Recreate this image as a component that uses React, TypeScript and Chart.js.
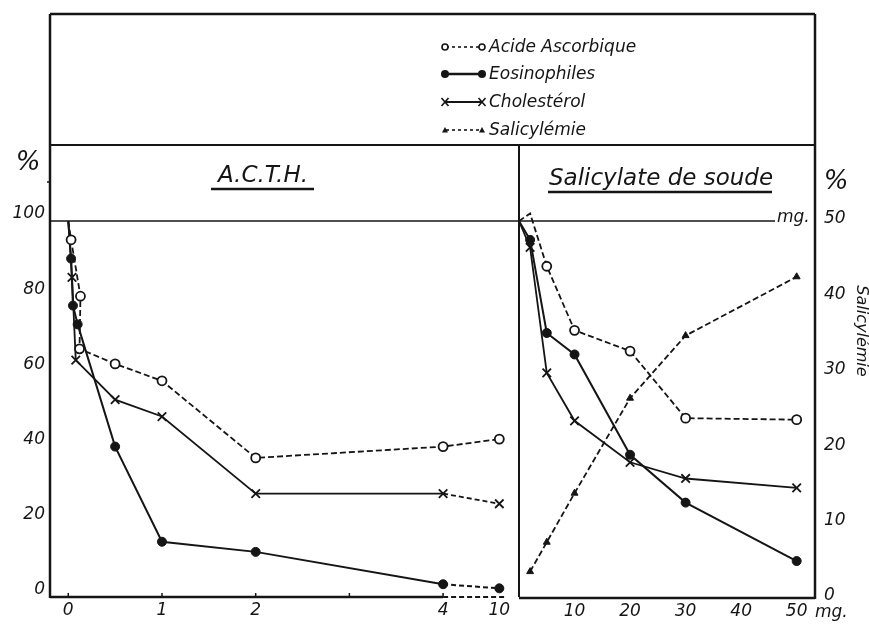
import { useEffect, useRef } from "react";
import { Chart, registerables } from "chart.js";

Chart.register(...registerables);

// ---------- data ----------
// A.C.T.H. panel (dose axis is broken after 4: the "10" is drawn close to 4)
const ACTH_TICK_DOSES = [0, 1, 2, 3, 4, 10];
const ACTH_TICK_LABELS = ["0", "1", "2", "", "4", "10"];

const ACTH_ASC_DOSE = [0, 0.03, 0.13, 0.12, 0.5, 1, 2, 4, 10];
const ACTH_ASC = [100, 95, 80, 66, 62, 57.5, 37, 40, 42];

const ACTH_EOS_DOSE = [0, 0.03, 0.05, 0.1, 0.5, 1, 2, 4, 10];
const ACTH_EOS = [100, 90, 77.5, 72.5, 40, 14.7, 12, 3.4, 2.3];

const ACTH_CHOL_DOSE = [0, 0.04, 0.08, 0.5, 1, 2, 4, 10];
const ACTH_CHOL = [100, 85, 63, 52.5, 48, 27.5, 27.5, 24.8];

// Salicylate de soude panel (mg)
const SAL_TICKS = [10, 20, 30, 40, 50];
const SAL_DOSE = [0, 2, 5, 10, 20, 30, 50];
const SAL_ASC = [100, 102, 88, 71, 65.5, 47.7, 47.3];
const SAL_EOS = [100, 95, 70.3, 64.6, 38, 25.3, 9.8];
const SAL_CHOL = [100, 93, 59.7, 47, 36, 31.7, 29.2];

const SALICYLEMIE_DOSE = [2, 5, 10, 20, 30, 50];
const SALICYLEMIE = [3.5, 7.4, 13.9, 26.5, 34.8, 42.6];

const PCT_TICKS = [0, 20, 40, 60, 80, 100];
const SALICYLEMIE_TICKS = [0, 10, 20, 30, 40, 50];

const LEGEND_LABELS = ["Acide Ascorbique", "Eosinophiles", "Cholestérol", "Salicylémie"];

// ---------- layout / style ----------
const W = 869;
const H = 624;
const INK = "#151515";
const FAMILY = '"DejaVu Sans", "Liberation Sans", sans-serif';
const PLOT_LEFT = 50;
const PLOT_DIVIDE = 519;
const PLOT_RIGHT = 815;
const PLOT_TOP = 221;
const PLOT_BOTTOM = 597;
const FRAME_TOP = 14;
const HEADER_BOTTOM = 145;

const brk = (d: number) => (d <= 4 ? d : 4 + (d - 4) * 0.1);

const tickFont = { family: FAMILY, size: 17, style: "italic" as const };

function seg(ctx: CanvasRenderingContext2D, x1: number, y1: number, x2: number, y2: number, w: number, dash: number[] = []) {
  ctx.beginPath();
  ctx.lineWidth = w;
  ctx.setLineDash(dash);
  ctx.moveTo(x1, y1);
  ctx.lineTo(x2, y2);
  ctx.stroke();
  ctx.setLineDash([]);
}

function marker(ctx: CanvasRenderingContext2D, kind: string, x: number, y: number) {
  ctx.setLineDash([]);
  if (kind === "open") {
    ctx.beginPath();
    ctx.lineWidth = 1.6;
    ctx.fillStyle = "#fff";
    ctx.arc(x, y, 3, 0, Math.PI * 2);
    ctx.fill();
    ctx.stroke();
    ctx.fillStyle = INK;
  } else if (kind === "filled") {
    ctx.beginPath();
    ctx.arc(x, y, 4, 0, Math.PI * 2);
    ctx.fill();
  } else if (kind === "cross") {
    ctx.lineWidth = 1.6;
    ctx.beginPath();
    ctx.moveTo(x - 3.5, y - 4);
    ctx.lineTo(x + 3.5, y + 4);
    ctx.moveTo(x + 3.5, y - 4);
    ctx.lineTo(x - 3.5, y + 4);
    ctx.stroke();
  } else {
    ctx.beginPath();
    ctx.moveTo(x, y - 3);
    ctx.lineTo(x + 3, y + 2.5);
    ctx.lineTo(x - 3, y + 2.5);
    ctx.closePath();
    ctx.fill();
  }
}

const leftDeco = {
  id: "leftDeco",
  afterDraw(chart: any) {
    const { ctx, chartArea: a, scales } = chart;
    const xs = scales.x;
    const ys = scales.y;
    ctx.save();
    ctx.strokeStyle = INK;
    ctx.fillStyle = INK;
    // frame
    seg(ctx, a.left, FRAME_TOP, PLOT_RIGHT, FRAME_TOP, 2.5);
    seg(ctx, a.left, FRAME_TOP, a.left, a.bottom + 1, 2.5);
    seg(ctx, a.left, HEADER_BOTTOM, PLOT_RIGHT, HEADER_BOTTOM, 2);
    seg(ctx, a.right, HEADER_BOTTOM, a.right, a.bottom, 2);
    const y100 = ys.getPixelForValue(100);
    seg(ctx, a.left, y100, a.right, y100, 1.6);
    // broken dose axis
    const x4 = xs.getPixelForValue(4);
    seg(ctx, a.left, a.bottom, x4, a.bottom, 2.5);
    seg(ctx, x4, a.bottom, xs.getPixelForValue(4.66), a.bottom, 2, [5, 3]);
    ACTH_TICK_DOSES.forEach((d) => {
      if (d > 4) return;
      const px = xs.getPixelForValue(brk(d));
      seg(ctx, px, a.bottom - 4, px, a.bottom, 1.5);
    });
    // small tick on y axis above 100
    seg(ctx, a.left - 3, 182, a.left, 182, 1.5);

    // legend
    const rows = [47, 74, 102, 130];
    const kinds = ["open", "filled", "cross", "tri"];
    const dashes = [[3, 3], [], [], [3, 3]];
    const widths = [1.6, 2.4, 1.8, 1.6];
    rows.forEach((ry, i) => {
      seg(ctx, 446, ry, 481, ry, widths[i], dashes[i]);
      marker(ctx, kinds[i], 445, ry);
      marker(ctx, kinds[i], 482, ry);
      ctx.font = `italic 17px ${FAMILY}`;
      ctx.textAlign = "left";
      ctx.textBaseline = "middle";
      ctx.fillText(LEGEND_LABELS[i], 489, ry + 1);
    });

    // title A.C.T.H.
    ctx.font = `italic 23px ${FAMILY}`;
    ctx.textAlign = "center";
    ctx.textBaseline = "alphabetic";
    ctx.fillText("A.C.T.H.", 263, 182);
    seg(ctx, 211, 189, 314, 189, 2.5);

    // % sign
    ctx.font = `italic 26px ${FAMILY}`;
    ctx.textBaseline = "middle";
    ctx.fillText("%", 28, 163);
    ctx.restore();
  },
};

const rightDeco = {
  id: "rightDeco",
  afterDraw(chart: any) {
    const { ctx, chartArea: a, scales } = chart;
    const ys = scales.y;
    ctx.save();
    ctx.strokeStyle = INK;
    ctx.fillStyle = INK;
    seg(ctx, a.right, FRAME_TOP, a.right, a.bottom + 1, 2.5);
    seg(ctx, a.left, a.bottom, a.right, a.bottom, 2.5);
    const y100 = ys.getPixelForValue(100);
    seg(ctx, a.left, y100, 775, y100, 1.6);

    ctx.font = `italic 17px ${FAMILY}`;
    ctx.textAlign = "left";
    ctx.textBaseline = "middle";
    ctx.fillText("mg.", 777, y100 - 3);
    ctx.fillText("mg.", 815, 613);

    ctx.font = `italic 23px ${FAMILY}`;
    ctx.textAlign = "center";
    ctx.textBaseline = "alphabetic";
    ctx.fillText("Salicylate de soude", 661, 185);
    seg(ctx, 548, 192, 772, 192, 2.5);

    ctx.font = `italic 26px ${FAMILY}`;
    ctx.textBaseline = "middle";
    ctx.fillText("%", 836, 182);

    ctx.save();
    ctx.translate(861, 331);
    ctx.rotate(Math.PI / 2);
    ctx.font = `italic 16px ${FAMILY}`;
    ctx.textAlign = "center";
    ctx.textBaseline = "middle";
    ctx.fillText("Salicylémie", 0, 0);
    ctx.restore();
    ctx.restore();
  },
};

const hideFirst = (c: any) => (c.dataIndex === 0 ? 0 : 4.5);
const hideFirstCross = (c: any) => (c.dataIndex === 0 ? 0 : 6);
const dashAfter4 = (c: any) => (c.p1.parsed.x > 4.01 ? [5, 3] : undefined);

const common = { borderColor: INK, clip: false as const, tension: 0, fill: false, pointBorderColor: INK };

function leftConfig(): any {
  return {
    type: "line",
    data: {
      datasets: [
        {
          ...common,
          label: LEGEND_LABELS[0],
          data: ACTH_ASC_DOSE.map((d, i) => ({ x: brk(d), y: ACTH_ASC[i] })),
          borderWidth: 1.8,
          borderDash: [6, 3],
          pointStyle: "circle",
          pointRadius: hideFirst,
          pointBackgroundColor: "#fff",
          pointBorderWidth: 1.8,
        },
        {
          ...common,
          label: LEGEND_LABELS[1],
          data: ACTH_EOS_DOSE.map((d, i) => ({ x: brk(d), y: ACTH_EOS[i] })),
          borderWidth: 2,
          pointStyle: "circle",
          pointRadius: hideFirst,
          pointBackgroundColor: INK,
          pointBorderWidth: 1,
          segment: { borderDash: dashAfter4 },
        },
        {
          ...common,
          label: LEGEND_LABELS[2],
          data: ACTH_CHOL_DOSE.map((d, i) => ({ x: brk(d), y: ACTH_CHOL[i] })),
          borderWidth: 1.8,
          pointStyle: "crossRot",
          pointRadius: hideFirstCross,
          pointBorderWidth: 1.8,
          segment: { borderDash: dashAfter4 },
        },
      ],
    },
    options: {
      responsive: false,
      maintainAspectRatio: false,
      animation: false,
      events: [],
      layout: { padding: { left: 0, right: W - PLOT_DIVIDE, top: PLOT_TOP, bottom: 0 } },
      plugins: { legend: { display: false }, tooltip: { enabled: false }, title: { display: false } },
      scales: {
        x: {
          type: "linear",
          min: -0.195,
          max: 4.81,
          afterFit: (s: any) => {
            s.height = H - PLOT_BOTTOM;
          },
          afterBuildTicks: (s: any) => {
            s.ticks = ACTH_TICK_DOSES.map((d) => ({ value: brk(d) }));
          },
          ticks: {
            autoSkip: false,
            maxRotation: 0,
            padding: 3,
            color: INK,
            font: tickFont,
            callback: (_v: any, i: number) => ACTH_TICK_LABELS[i],
          },
          grid: { display: false, drawTicks: false },
          border: { display: false },
        },
        y: {
          min: 0,
          max: 100,
          afterFit: (s: any) => {
            s.width = PLOT_LEFT;
          },
          afterBuildTicks: (s: any) => {
            s.ticks = PCT_TICKS.map((v) => ({ value: v }));
          },
          ticks: { padding: 5, labelOffset: -7, color: INK, font: tickFont },
          grid: { display: false, drawTicks: false },
          border: { display: false },
        },
      },
    },
    plugins: [leftDeco],
  };
}

function rightConfig(): any {
  return {
    type: "line",
    data: {
      datasets: [
        {
          ...common,
          label: LEGEND_LABELS[0],
          data: SAL_DOSE.map((d, i) => ({ x: d, y: SAL_ASC[i] })),
          yAxisID: "y",
          borderWidth: 1.8,
          borderDash: [6, 3],
          pointStyle: "circle",
          pointRadius: hideFirst,
          pointBackgroundColor: "#fff",
          pointBorderWidth: 1.8,
        },
        {
          ...common,
          label: LEGEND_LABELS[1],
          data: SAL_DOSE.map((d, i) => ({ x: d, y: SAL_EOS[i] })),
          yAxisID: "y",
          borderWidth: 2,
          pointStyle: "circle",
          pointRadius: hideFirst,
          pointBackgroundColor: INK,
          pointBorderWidth: 1,
        },
        {
          ...common,
          label: LEGEND_LABELS[2],
          data: SAL_DOSE.map((d, i) => ({ x: d, y: SAL_CHOL[i] })),
          yAxisID: "y",
          borderWidth: 1.8,
          pointStyle: "crossRot",
          pointRadius: hideFirstCross,
          pointBorderWidth: 1.8,
        },
        {
          ...common,
          label: LEGEND_LABELS[3],
          data: SALICYLEMIE_DOSE.map((d, i) => ({ x: d, y: SALICYLEMIE[i] })),
          yAxisID: "y2",
          borderWidth: 1.8,
          borderDash: [6, 3],
          pointStyle: "triangle",
          pointRadius: 4,
          pointBackgroundColor: INK,
          pointBorderWidth: 1,
        },
      ],
    },
    options: {
      responsive: false,
      maintainAspectRatio: false,
      animation: false,
      events: [],
      layout: { padding: { left: PLOT_DIVIDE, right: 0, top: PLOT_TOP, bottom: 0 } },
      plugins: { legend: { display: false }, tooltip: { enabled: false }, title: { display: false } },
      scales: {
        x: {
          type: "linear",
          min: 0,
          max: 53.3,
          afterFit: (s: any) => {
            s.height = H - PLOT_BOTTOM - 1;
          },
          afterBuildTicks: (s: any) => {
            s.ticks = SAL_TICKS.map((v) => ({ value: v }));
          },
          ticks: { autoSkip: false, maxRotation: 0, padding: 3, color: INK, font: tickFont },
          grid: { display: false, drawTicks: false },
          border: { display: false },
        },
        y: { display: false, min: 0, max: 100 },
        y2: {
          position: "right",
          min: 0,
          max: 50,
          afterFit: (s: any) => {
            s.width = W - PLOT_RIGHT;
          },
          afterBuildTicks: (s: any) => {
            s.ticks = SALICYLEMIE_TICKS.map((v) => ({ value: v }));
          },
          ticks: { padding: 9, labelOffset: -2, color: INK, font: tickFont },
          grid: { display: false, drawTicks: false },
          border: { display: false },
        },
      },
    },
    plugins: [rightDeco],
  };
}

export default function App() {
  const leftRef = useRef<HTMLCanvasElement | null>(null);
  const rightRef = useRef<HTMLCanvasElement | null>(null);

  useEffect(() => {
    document.body.style.margin = "0";
    const l = new Chart(leftRef.current as HTMLCanvasElement, leftConfig());
    const r = new Chart(rightRef.current as HTMLCanvasElement, rightConfig());
    return () => {
      l.destroy();
      r.destroy();
    };
  }, []);

  const cs: any = { position: "absolute", left: 0, top: 0, width: W, height: H };
  return (
    <div style={{ position: "relative", width: W, height: H, background: "#fff", overflow: "hidden" }}>
      <canvas ref={leftRef} width={W} height={H} style={cs} />
      <canvas ref={rightRef} width={W} height={H} style={cs} />
    </div>
  );
}
